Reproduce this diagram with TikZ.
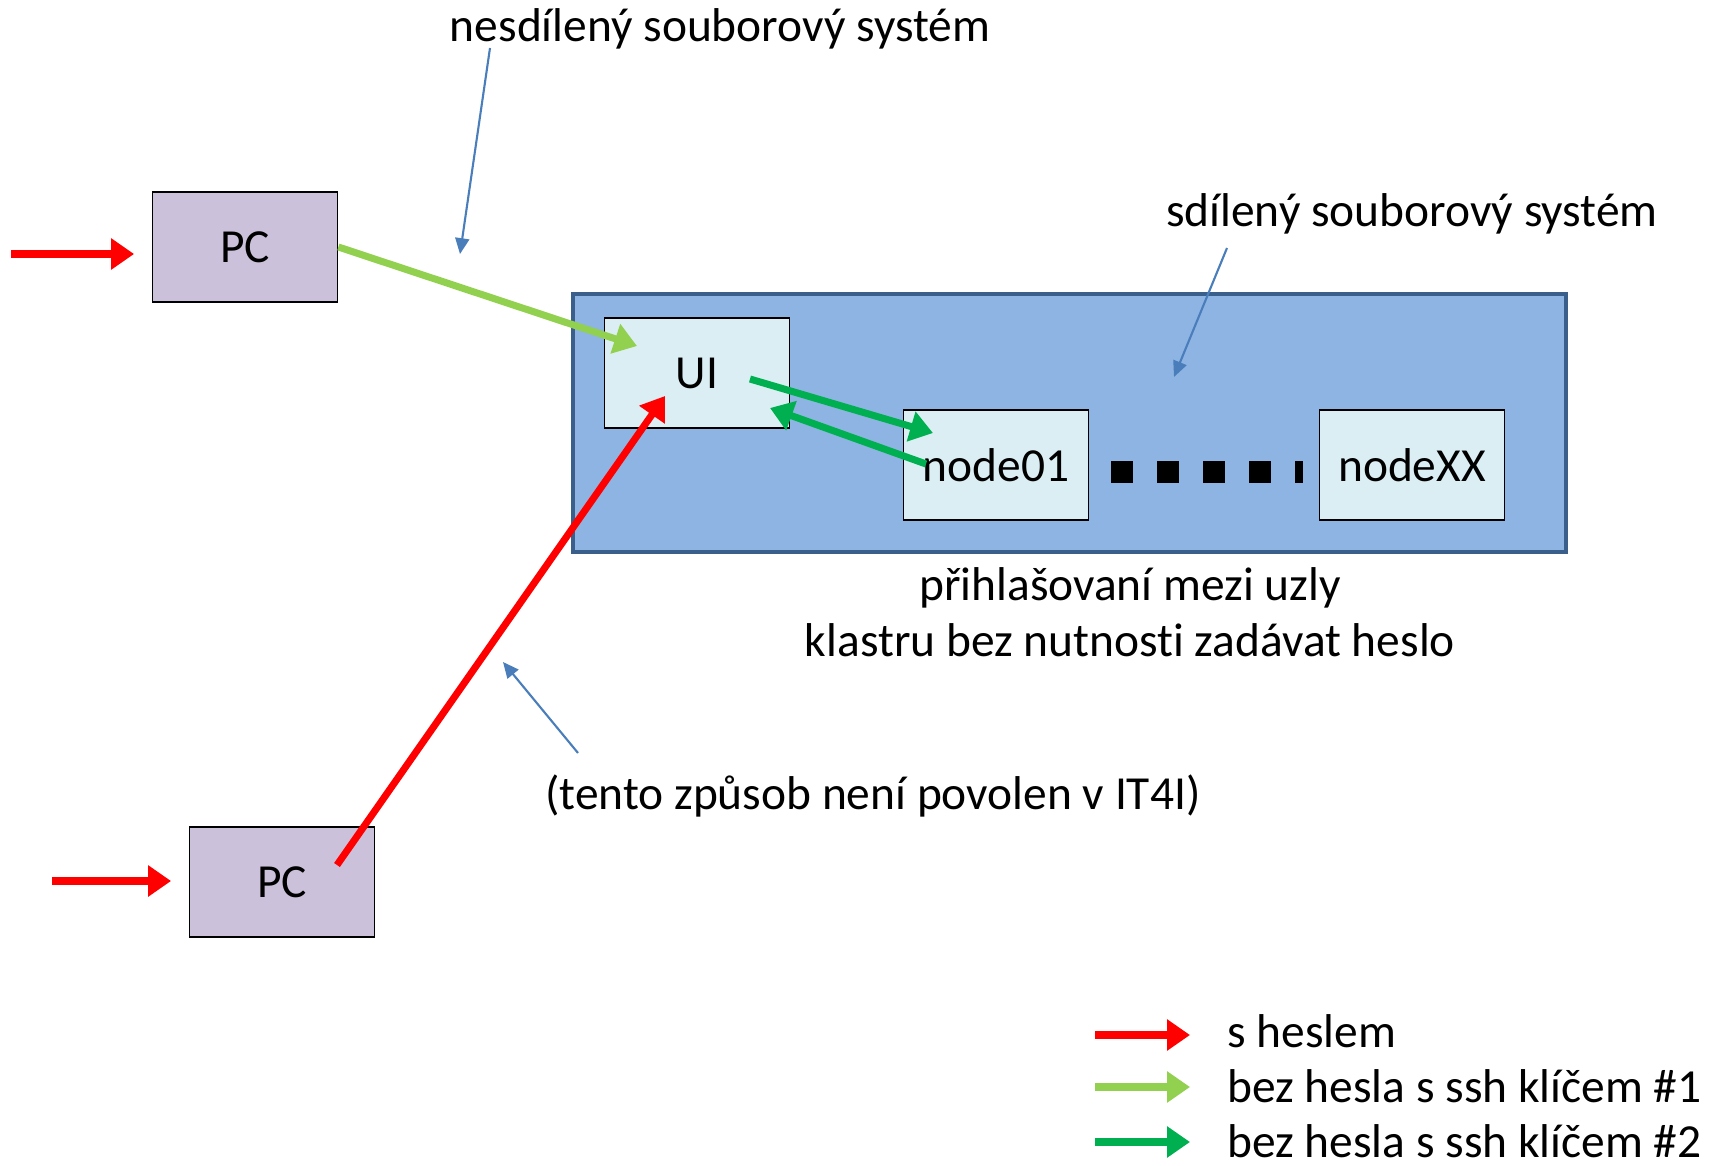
\documentclass[tikz,border=0pt]{standalone}
\usepackage{fontspec}
\setmainfont{Carlito}[Ligatures=NoCommon]
\usetikzlibrary{arrows.meta,calc}
\definecolor{pcfill}{HTML}{CCC1DA}
\definecolor{uifill}{HTML}{DBEEF4}
\definecolor{clfill}{HTML}{8EB4E3}
\definecolor{cldraw}{HTML}{3A5F8B}
\definecolor{lgreen}{HTML}{92D050}
\definecolor{dgreen}{HTML}{00B050}
\definecolor{note}{HTML}{4A7EBB}

\begin{document}
\begin{tikzpicture}[x=0.02cm,y=-0.02cm,
  every node/.style={font=\fontsize{27}{32}\selectfont},
  box/.style={draw,line width=1pt,minimum width=3.7cm,minimum height=2.2cm,inner sep=0pt},
  pc/.style={box,fill=pcfill},
  srv/.style={box,fill=uifill},
  fat/.style={line width=4pt,-{Triangle[length=13pt,width=17pt]}},
  thin/.style={note,line width=1.2pt,-{Triangle[length=9pt,width=8pt]}}]
\useasboundingbox (0,0) rectangle (1712,1166);

\node[draw=cldraw,fill=clfill,line width=2.5pt,minimum width=19.86cm,minimum height=5.16cm] (CL) at (1069.5,423) {};
\node[pc] (PC1) at (245,247) {PC};
\node[pc] (PC2) at (282,882) {PC};
\node[srv] (UI) at (697,373) {UI};
\node[srv] (N01) at (996,465) {node01};
\node[srv] (NXX) at (1412,465) {nodeXX};

\node (T0) at (720,29) {nesdílený souborový systém};
\node (T1) at (1412,214) {sdílený souborový systém};
\node[align=center] (T2) at (1130,612) {přihlašovaní mezi uzly\\klastru bez nutnosti zadávat heslo};
\node (T3) at (873,796) {(tento způsob není povolen v IT4I)};

% dots between the nodes
\draw[line width=0.44cm,dash pattern=on 0.44cm off 0.48cm] ($(N01.east)+(22,7)$) -- ($(NXX.west)+(-16,7)$);

% incoming logins
\coordinate (in1) at (11,254);
\coordinate (in2) at (52,881);
\draw[fat,red,shorten >=10pt] (in1) -- (in1 -| PC1.west);
\draw[fat,red,shorten >=10pt] (in2) -- (in2 -| PC2.west);

\draw[fat,lgreen] (PC1.east) -- ($(UI.center)+(-60,-27)$);
\draw[fat,red] ($(PC2.center)+(55,-17)$) -- ($(UI.center)+(-32,23)$);
\draw[fat,dgreen] ($(UI.center)+(53,6)$) -- ($(N01.center)+(-63,-32)$);
\draw[fat,dgreen] ($(N01.center)+(-70,-1)$) -- ($(UI.center)+(73,35)$);

% notes
\coordinate (c0) at (490,48);
\coordinate (c1) at (1227,248);
\coordinate (c2) at (578,753);
\draw[thin] (c0) -- (460,254);
\draw[thin] (c1) -- (1174,377);
\draw[thin] (c2) -- (503,662);

% legend
\coordinate (L1) at (1095,1035);
\coordinate (L2) at (1095,1087);
\coordinate (L3) at (1095,1142);
\node[anchor=west,inner sep=0pt] (K1) at (1227,1031) {s heslem};
\node[anchor=west,inner sep=0pt] (K2) at (1227,1086) {bez hesla s ssh klíčem \#1};
\node[anchor=west,inner sep=0pt] (K3) at (1227,1141) {bez hesla s ssh klíčem \#2};
\draw[fat,red] (L1) -- ++(95,0);
\draw[fat,lgreen] (L2) -- ++(95,0);
\draw[fat,dgreen] (L3) -- ++(95,0);
\end{tikzpicture}
\end{document}
